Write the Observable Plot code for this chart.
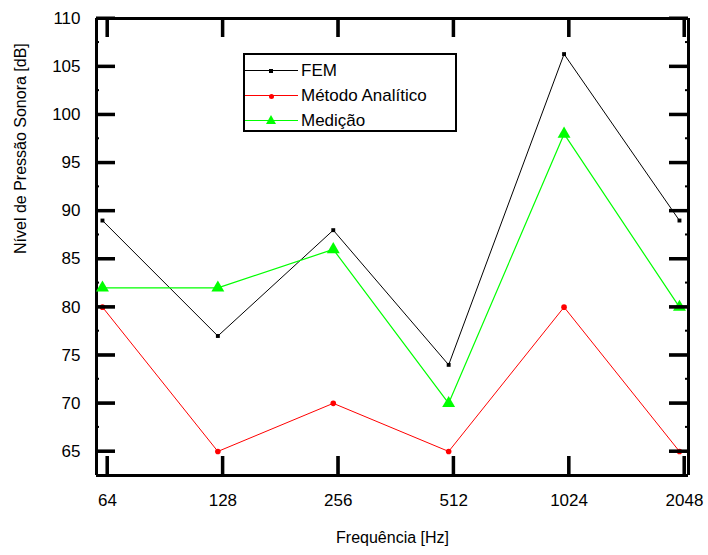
<!DOCTYPE html>
<html><head><meta charset="utf-8">
<script src="https://cdn.jsdelivr.net/npm/d3@7"></script>
<script src="https://cdn.jsdelivr.net/npm/@observablehq/plot@0.6"></script>
<style>
body{margin:0;background:#fff;font-family:Arial,"Liberation Sans",sans-serif}
#wrap{position:relative;width:708px;height:555px}
#legend{position:absolute;left:243px;top:53px;width:210px;height:75px;border:2px solid #000;background:#fff;font-size:17px;color:#000}
.row{position:absolute;left:0;height:20px;width:210px}
.sw{position:absolute;left:0;top:9px;width:53px;height:0;border-top:1px solid}
.lab{position:absolute;left:56px;top:0;line-height:20px;white-space:nowrap}
.mk{position:absolute}
</style></head><body><div id="wrap"></div>
<script>
const freqs = [64, 128, 256, 512, 1024, 2048];
const fem = [89, 77, 88, 74, 106.3, 89];
const analitico = [80, 65, 70, 65, 80, 65];
const medicao = [82, 82, 86, 70, 98, 80];
const yTicks = [65, 70, 75, 80, 85, 90, 95, 100, 105, 110];
const yMinor = [67.5, 72.5, 77.5, 82.5, 87.5, 92.5, 97.5, 102.5, 107.5];
const xTicks = [64, 128, 256, 512, 1024, 2048];
const seriesNames = ["FEM", "Método Analítico", "Medição"];
const colors = ["#000000", "#ff0000", "#00ff00"];
const yLabel = "Nível de Pressão Sonora [dB]";
const xLabel = "Frequência [Hz]";

const W = 708, H = 555, ML = 96, MR = 20, MT = 18, MB = 80;
const FW = W - ML - MR, FH = H - MT - MB, TL = 19, TM = 3;
const xDomain = [Math.pow(2, 5.905), Math.pow(2, 11.035)];
const yDomain = [62.5, 110];

const rows = (vals) => freqs.map((f, i) => ({f, v: vals[i]}));
const dFem = rows(fem), dAna = rows(analitico), dMed = rows(medicao);
const DX = -5;

const chart = Plot.plot({
  width: W, height: H,
  marginLeft: ML, marginRight: MR, marginTop: MT, marginBottom: MB,
  style: {fontSize: "17px", fontFamily: "Arial, sans-serif"},
  x: {type: "log", base: 2, domain: xDomain},
  y: {domain: yDomain},
  marks: [
    Plot.axisY(yTicks, {tickSize: 0, tickPadding: 16, label: null, tickFormat: d => String(d)}),
    Plot.axisX(xTicks, {tickSize: 0, tickPadding: 18, label: null, tickFormat: d => String(d)}),
    Plot.ruleY(yDomain, {stroke: "#000", strokeWidth: 3}),
    Plot.ruleX(xDomain, {stroke: "#000", strokeWidth: 3}),
    Plot.line(dFem, {x: "f", y: "v", stroke: colors[0], strokeWidth: 1, dx: DX}),
    Plot.line(dAna, {x: "f", y: "v", stroke: colors[1], strokeWidth: 1, dx: DX}),
    Plot.line(dMed, {x: "f", y: "v", stroke: colors[2], strokeWidth: 1.2, dx: DX}),
    Plot.dot(dFem, {x: "f", y: "v", symbol: "square", r: 2.2, fill: colors[0], dx: DX}),
    Plot.dot(dAna, {x: "f", y: "v", r: 2.8, fill: colors[1], dx: DX}),
    Plot.dot(dMed, {x: "f", y: "v", symbol: "triangle", r: 4.8, fill: colors[2], dx: DX}),
    Plot.text([yLabel], {frameAnchor: "left", rotate: -90, dx: -76, dy: 7, fontSize: 16, fill: "#000"}),
    Plot.text([xLabel], {frameAnchor: "bottom", dy: 67, fontSize: 16, fill: "#000"}),
    // inward ticks, drawn last
    Plot.tickY(yTicks, {y: d => d, stroke: "#000", strokeWidth: 3, insetRight: FW - TL}),
    Plot.tickY(yTicks, {y: d => d, stroke: "#000", strokeWidth: 3, insetLeft: FW - TL}),
    Plot.tickX(xTicks, {x: d => d, stroke: "#000", strokeWidth: 3, insetTop: FH - TL}),
    Plot.tickX(xTicks, {x: d => d, stroke: "#000", strokeWidth: 3, insetBottom: FH - TL})
  ]
});
const wrap = document.getElementById("wrap");
wrap.appendChild(chart);

// fallback tick layer through Plot's own scales
try {
  const sx = chart.scale("x"), sy = chart.scale("y");
  const g = d3.select(chart).append("g").attr("stroke", "#000");
  const x0 = sx.apply(xDomain[0]), x1 = sx.apply(xDomain[1]);
  const y0 = sy.apply(yDomain[0]), y1 = sy.apply(yDomain[1]);
  yTicks.forEach(t => {
    const y = sy.apply(t);
    g.append("line").attr("x1", x0).attr("x2", x0 + TL).attr("y1", y).attr("y2", y).attr("stroke-width", 3);
    g.append("line").attr("x1", x1 - TL).attr("x2", x1).attr("y1", y).attr("y2", y).attr("stroke-width", 3);
  });
  yMinor.forEach(t => {
    const y = sy.apply(t);
    g.append("line").attr("x1", x0).attr("x2", x0 + TM).attr("y1", y).attr("y2", y).attr("stroke-width", 2);
    g.append("line").attr("x1", x1 - TM).attr("x2", x1).attr("y1", y).attr("y2", y).attr("stroke-width", 2);
  });
  xTicks.forEach(t => {
    const x = sx.apply(t);
    g.append("line").attr("x1", x).attr("x2", x).attr("y1", y0).attr("y2", y0 - TL).attr("stroke-width", 3);
    g.append("line").attr("x1", x).attr("x2", x).attr("y1", y1).attr("y2", y1 + TL).attr("stroke-width", 3);
  });
} catch (e) {}

// HTML legend
const lg = document.createElement("div");
lg.id = "legend";
seriesNames.forEach((name, i) => {
  const r = document.createElement("div");
  r.className = "row";
  r.style.top = (6 + i * 25) + "px";
  const c = colors[i];
  let mk = "";
  if (i === 0) mk = `<div class="mk" style="left:24px;top:8px;width:4px;height:4px;background:${c}"></div>`;
  if (i === 1) mk = `<div class="mk" style="left:24px;top:8px;width:5px;height:5px;border-radius:50%;background:${c}"></div>`;
  if (i === 2) mk = `<div class="mk" style="left:21px;top:4px;width:0;height:0;border-left:5px solid transparent;border-right:5px solid transparent;border-bottom:9px solid ${c}"></div>`;
  r.innerHTML = `<div class="sw" style="border-color:${c}"></div>${mk}<div class="lab">${name}</div>`;
  lg.appendChild(r);
});
wrap.appendChild(lg);
</script></body></html>
